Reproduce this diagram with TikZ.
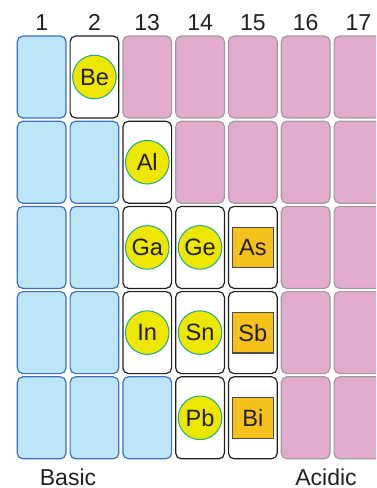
\documentclass[tikz,border=0pt]{standalone}
\usepackage{fontspec}
\setmainfont{Liberation Sans}
\usepackage{xcolor}
\usepackage{tikz}
\definecolor{pink}{HTML}{E2ABCB}
\definecolor{pinkline}{HTML}{A19BA0}
\definecolor{sky}{HTML}{BCE5F8}
\definecolor{skyline}{HTML}{3F6FBF}
\definecolor{lemon}{HTML}{EDE600}
\definecolor{teal}{HTML}{1FAA8A}
\definecolor{amber}{HTML}{F5C21B}
\definecolor{ink}{HTML}{231F20}

\begin{document}
\begin{tikzpicture}[x=0.5pt,y=-0.5pt,
  every node/.style={text=ink},
  cellB/.style={draw=skyline,fill=sky,line width=0.6pt,rounded corners=2.8pt,minimum width=24.35pt,minimum height=41pt,inner sep=0pt},
  cellP/.style={cellB,draw=pinkline,fill=pink},
  cellW/.style={cellB,draw=ink,fill=white},
  metal/.style={circle,draw=teal,fill=lemon,line width=0.5pt,minimum size=21.8pt,inner sep=0pt,font=\fontsize{11.8}{14}\selectfont},
  metalloid/.style={rectangle,draw=ink!80,fill=amber,line width=0.6pt,minimum size=20.3pt,inner sep=0pt,font=\fontsize{11.8}{14}\selectfont},
  group/.style={anchor=base,font=\fontsize{11.5}{13}\selectfont}]
  \clip (0,0) rectangle (376,488);

  % cells
  \foreach \row [count=\r] in {{B,W,P,P,P,P,P},{B,B,W,P,P,P,P},{B,B,W,W,W,P,P},{B,B,W,W,W,P,P},{B,B,B,W,W,P,P}}{
    \foreach \t [count=\c] in \row
      \node[style=cell\t] (c\r\c) at ({41.65+52.8*(\c-1)},{77+85.2*(\r-1)}) {};
  }

  % group numbers
  \foreach \g [count=\c] in {1,2,13,14,15,16,17}
    \node[group] (g\c) at ({41.65+52.8*(\c-1)},30.7) {\g};

  % amphoteric metals
  \node[metal] (Be) at (c12) {Be};
  \node[metal] (Al) at (c23) {Al};
  \node[metal] (Ga) at (c33) {Ga};
  \node[metal] (Ge) at (c34) {Ge};
  \node[metal] (In) at (c43) {In};
  \node[metal] (Sn) at (c44) {Sn};
  \node[metal] (Pb) at (c54) {Pb};

  % metalloids
  \node[metalloid] (As) at (c35) {As};
  \node[metalloid] (Sb) at (c45) {Sb};
  \node[metalloid] (Bi) at (c55) {Bi};

  % labels
  \node[group] (basic) at (68,485) {Basic};
  \node[group] (acidic) at (326,485) {Acidic};
\end{tikzpicture}
\end{document}
